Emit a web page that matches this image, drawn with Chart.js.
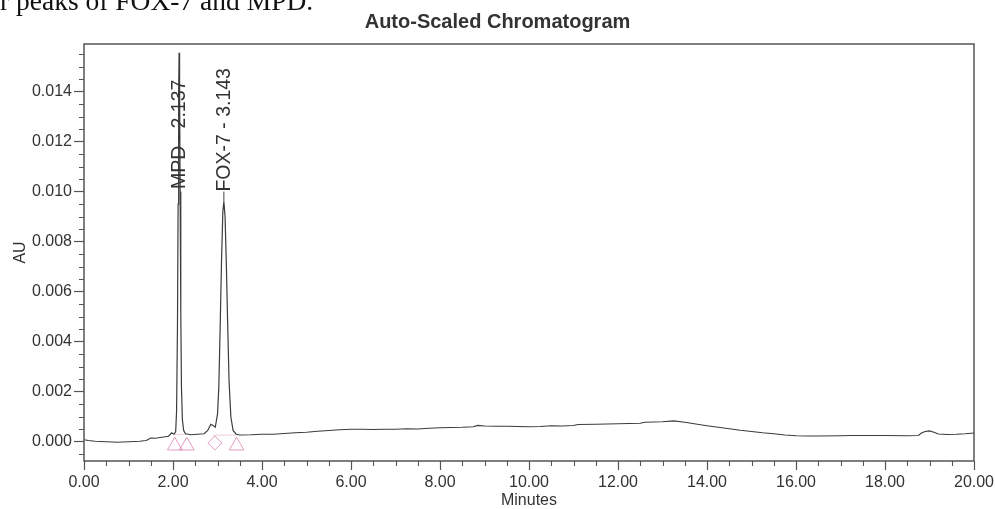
<!DOCTYPE html>
<html><head><meta charset="utf-8">
<script src="https://cdn.jsdelivr.net/npm/chart.js@4"></script>
<style>
html,body{margin:0;padding:0;background:#fff;}
#wrap{position:relative;width:995px;height:509px;overflow:hidden;background:#fff;}
canvas{position:absolute;left:0;top:0;}
#cap{position:absolute;left:0px;top:-13px;font-family:"Liberation Serif","Times New Roman",serif;font-size:27.5px;line-height:27px;color:#111;white-space:nowrap;}
</style></head><body>
<div id="wrap"><canvas id="c" width="995" height="509"></canvas><div id="cap">r peaks of FOX-7 and MPD.</div></div>
<script>
// ---- data (minutes, AU) ----
const times = [
  0.00, 0.10, 0.25, 0.50, 0.75, 1.00, 1.25, 1.40, 1.50, 1.60, 1.75, 1.90, 1.97, 2.02, 2.06,
  2.08, 2.10, 2.115, 2.127, 2.137, 2.148, 2.16, 2.175, 2.19, 2.21, 2.24, 2.28,
  2.40, 2.55, 2.70, 2.78, 2.85, 2.90, 2.95,
  3.00, 3.03, 3.06, 3.09, 3.12, 3.143, 3.17, 3.20, 3.23, 3.26, 3.30, 3.35, 3.42,
  3.50, 3.75, 4.00, 4.25, 4.50, 4.75, 5.00, 5.25, 5.50, 5.75, 6.00, 6.25, 6.50, 6.75, 7.00, 7.25, 7.50, 7.75, 8.00, 8.25, 8.50, 8.75, 8.85,
  9.00, 9.25, 9.50, 9.75, 10.00, 10.25, 10.50, 10.75, 11.00, 11.10, 11.50, 12.00, 12.50, 12.60, 13.00, 13.25, 13.50, 13.75, 14.00,
  14.25, 14.50, 14.75, 15.00, 15.25, 15.50, 15.75, 16.00, 16.25, 16.50, 17.00, 17.25, 17.50, 18.00, 18.50, 18.75, 18.82, 18.90, 19.00, 19.10, 19.20, 19.40, 19.60, 19.80, 20.00
];
const absorbance = [
  0.00008, 0.00005, 0.00002, 0.00000, -0.00002, 0.00000, 0.00002, 0.00005, 0.00015, 0.00014, 0.00018, 0.00022, 0.00036, 0.00030, 0.00040,
  0.0012, 0.0045, 0.0095, 0.0140, 0.01555, 0.0142, 0.0100, 0.0052, 0.0022, 0.0009, 0.00045, 0.00032,
  0.00028, 0.00030, 0.00032, 0.00045, 0.00070, 0.00065, 0.00058,
  0.0011, 0.0022, 0.0046, 0.0072, 0.0092, 0.0096, 0.0090, 0.0070, 0.0046, 0.0024, 0.0010, 0.00045, 0.00030,
  0.00027, 0.00028, 0.00030, 0.00030, 0.00033, 0.00036, 0.00038, 0.00042, 0.00045, 0.00048, 0.00050, 0.00050, 0.00049, 0.00050, 0.00050, 0.00052, 0.00051, 0.00054, 0.00056, 0.00057, 0.00058, 0.00060, 0.00065,
  0.00063, 0.00062, 0.00062, 0.00061, 0.00060, 0.00061, 0.00064, 0.00063, 0.00065, 0.00069, 0.00070, 0.00072, 0.00074, 0.00078, 0.00080, 0.00083, 0.00078, 0.00071, 0.00064,
  0.00058, 0.00052, 0.00046, 0.00041, 0.00036, 0.00032, 0.00027, 0.00024, 0.00023, 0.00023, 0.00024, 0.00025, 0.00025, 0.00025, 0.00024, 0.00025, 0.00035, 0.00041, 0.00043, 0.00038, 0.00031, 0.00029, 0.00030, 0.00032, 0.00035
];
const peakNames = ['MPD - 2.137', 'FOX-7 - 3.143'];
const peakTimes = [2.137, 3.143];
const peakHeights = [0.01555, 0.0096];
const labelStarts = [0.0101, 0.0100];
const markerTimes = [2.04, 2.31, 2.94, 3.43];
const markerLevels = [-0.00016, -0.00016, -0.00005, -0.00016];
const markerShapes = ['triangle', 'triangle', 'rectRot', 'triangle'];
const baselineTimes = [2.04, 2.31, 2.60, 2.90, 3.43];
const baselineLevels = [0.00028, 0.00030, null, 0.00026, 0.00027];
const xMinorTicks = [0.5,1,1.5,2.5,3,3.5,4.5,5,5.5,6.5,7,7.5,8.5,9,9.5,10.5,11,11.5,12.5,13,13.5,14.5,15,15.5,16.5,17,17.5,18.5,19,19.5];
const yMinorTicks = [-0.0005,0.0005,0.001,0.0015,0.0025,0.003,0.0035,0.0045,0.005,0.0055,0.0065,0.007,0.0075,0.0085,0.009,0.0095,0.0105,0.011,0.0115,0.0125,0.013,0.0135,0.0145,0.015,0.0155];

const F = '"Liberation Sans", Arial, Helvetica, sans-serif';
const AXIS = '#555';
const TXT = '#333';
const PINK = 'rgba(226,150,190,0.95)';

const extras = {
  id: 'extras',
  afterDatasetsDraw(chart) {
    const {ctx, chartArea: a, scales: {x, y}} = chart;
    ctx.save();
    // frame
    ctx.strokeStyle = AXIS; ctx.lineWidth = 1.5;
    ctx.strokeRect(a.left, a.top, a.right - a.left, a.bottom - a.top);
    // minor ticks
    ctx.lineWidth = 1.1; ctx.strokeStyle = AXIS;
    ctx.beginPath();
    xMinorTicks.forEach(v => { const p = Math.round(x.getPixelForValue(v)) + 0.5; ctx.moveTo(p, a.bottom); ctx.lineTo(p, a.bottom + 5); });
    yMinorTicks.forEach(v => { const p = Math.round(y.getPixelForValue(v)) + 0.5; ctx.moveTo(a.left - 5, p); ctx.lineTo(a.left, p); });
    ctx.stroke();
    // peak labels
    ctx.fillStyle = TXT; ctx.strokeStyle = '#444'; ctx.lineWidth = 1;
    ctx.font = '19.5px ' + F;
    peakNames.forEach((name, i) => {
      const px = x.getPixelForValue(peakTimes[i]);
      const ly = y.getPixelForValue(labelStarts[i]);
      const ay = y.getPixelForValue(peakHeights[i]);
      if (ay > ly) { ctx.beginPath(); ctx.moveTo(px, ay); ctx.lineTo(px, ly); ctx.stroke(); }
      ctx.save();
      ctx.translate(px, ly);
      ctx.rotate(-Math.PI / 2);
      ctx.textAlign = 'left'; ctx.textBaseline = 'middle';
      ctx.fillText(name, 0, 1);
      ctx.restore();
    });
    ctx.restore();
  }
};

new Chart(document.getElementById('c'), {
  type: 'line',
  data: {
    datasets: [
      {
        data: times.map((t, i) => ({x: t, y: absorbance[i]})),
        borderColor: '#3c3c3c', borderWidth: 1.2, pointRadius: 0, tension: 0, fill: false, order: 1
      },
      {
        data: baselineTimes.map((t, i) => ({x: t, y: baselineLevels[i]})),
        borderColor: 'rgba(230,170,200,0.6)', borderWidth: 1, pointRadius: 0, spanGaps: false, order: 2
      },
      {
        data: markerTimes.map((t, i) => ({x: t, y: markerLevels[i]})),
        showLine: false, pointStyle: markerShapes, pointRadius: [8.5, 8.5, 7, 8.5],
        pointBorderColor: PINK, pointBackgroundColor: 'rgba(0,0,0,0)', pointBorderWidth: 1, order: 0
      }
    ]
  },
  options: {
    animation: false, responsive: false, devicePixelRatio: 1,
    layout: {padding: {left: 0, right: 0, top: 0, bottom: 0}},
    plugins: {
      legend: {display: false}, tooltip: {enabled: false},
      title: {display: true, text: 'Auto-Scaled Chromatogram', color: TXT,
        font: {family: F, size: 20, weight: 'bold', lineHeight: 1.2}, padding: {top: 10, bottom: 10}}
    },
    scales: {
      x: {
        type: 'linear', min: 0, max: 20, position: 'bottom',
        ticks: {stepSize: 2, includeBounds: false, autoSkip: false, maxRotation: 0, color: TXT,
          font: {family: F, size: 16}, padding: 3, callback: v => Number(v).toFixed(2)},
        grid: {display: true, drawOnChartArea: false, drawTicks: true, tickLength: 9, tickColor: AXIS, tickWidth: 1.2},
        border: {display: false},
        title: {display: true, text: 'Minutes', color: TXT, font: {family: F, size: 16, lineHeight: 1}, padding: {top: 0, bottom: 0}},
        afterFit(s) { s.height = 48; s.paddingLeft = 0; s.paddingRight = 21; }
      },
      y: {
        type: 'linear', min: -0.00077, max: 0.0159,
        ticks: {stepSize: 0.002, includeBounds: false, color: TXT, font: {family: F, size: 16}, padding: 2,
          callback: v => (Math.abs(v) < 1e-9 ? 0 : v).toFixed(3)},
        grid: {display: true, drawOnChartArea: false, drawTicks: true, tickLength: 10, tickColor: AXIS, tickWidth: 1.2},
        border: {display: false},
        title: {display: true, text: 'AU', color: TXT, font: {family: F, size: 16, lineHeight: 1}, padding: {top: 13, bottom: 0}},
        afterFit(s) { s.width = 84; s.paddingTop = 0; s.paddingBottom = 0; }
      }
    }
  },
  plugins: [extras]
});
</script>
</body></html>
